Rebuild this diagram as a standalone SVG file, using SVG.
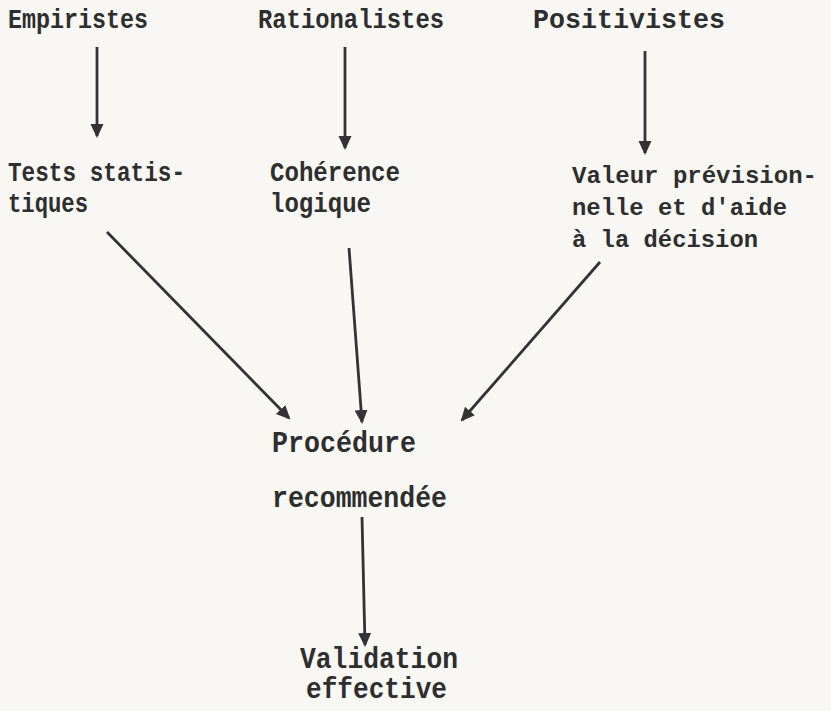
<svg xmlns="http://www.w3.org/2000/svg" width="831" height="711" viewBox="0 0 831 711">
<style>
text{font-family:"Liberation Mono","DejaVu Sans Mono",monospace;font-weight:bold;fill:#2e2e2e;font-size:27px}
.big{font-size:29px}
.v{font-size:24px}
.c line{stroke:#333;stroke-width:2.8;fill:none;marker-end:url(#ah)}
</style>
<defs>
<marker id="ah" viewBox="0 0 14 16" refX="12" refY="8" markerWidth="14" markerHeight="16" markerUnits="userSpaceOnUse" orient="auto">
<path d="M0,1.5 L14,8 L0,14.5 Z" fill="#333"/>
</marker>
</defs>
<rect width="831" height="711" fill="#f8f7f3"/>
<g id="empiristes"><text x="8" y="28" textLength="140" lengthAdjust="spacingAndGlyphs">Empiristes</text></g>
<g id="rationalistes"><text x="258" y="28" textLength="186" lengthAdjust="spacingAndGlyphs">Rationalistes</text></g>
<g id="positivistes"><text x="533" y="28" textLength="192" lengthAdjust="spacingAndGlyphs">Positivistes</text></g>
<g id="tests"><text x="8" y="181" textLength="177" lengthAdjust="spacingAndGlyphs">Tests statis-</text><text x="8" y="212" textLength="80" lengthAdjust="spacingAndGlyphs">tiques</text></g>
<g id="coherence"><text x="270" y="181" textLength="130" lengthAdjust="spacingAndGlyphs">Cohérence</text><text x="270" y="212" textLength="101" lengthAdjust="spacingAndGlyphs">logique</text></g>
<g id="valeur"><text class="v" x="572" y="183" textLength="245" lengthAdjust="spacingAndGlyphs">Valeur prévision-</text><text class="v" x="572" y="215" textLength="215" lengthAdjust="spacingAndGlyphs">nelle et d'aide</text><text class="v" x="572" y="247" textLength="186" lengthAdjust="spacingAndGlyphs">à la décision</text></g>
<g id="procedure"><text class="big" x="272" y="452" textLength="144" lengthAdjust="spacingAndGlyphs">Procédure</text><text class="big" x="272" y="507" textLength="175" lengthAdjust="spacingAndGlyphs">recommendée</text></g>
<g id="validation"><text class="big" x="300" y="668" textLength="158" lengthAdjust="spacingAndGlyphs">Validation</text><text class="big" x="306" y="698" textLength="141" lengthAdjust="spacingAndGlyphs">effective</text></g>
<g id="connectors" class="c">
<line x1="97" y1="47" x2="97" y2="136"/>
<line x1="345" y1="47" x2="345" y2="148"/>
<line x1="645" y1="51" x2="645" y2="153"/>
<line x1="107" y1="232" x2="289" y2="418"/>
<line x1="349" y1="248" x2="362" y2="422"/>
<line x1="600" y1="262" x2="462" y2="420"/>
<line x1="362" y1="517" x2="365" y2="645"/>
</g>
</svg>
